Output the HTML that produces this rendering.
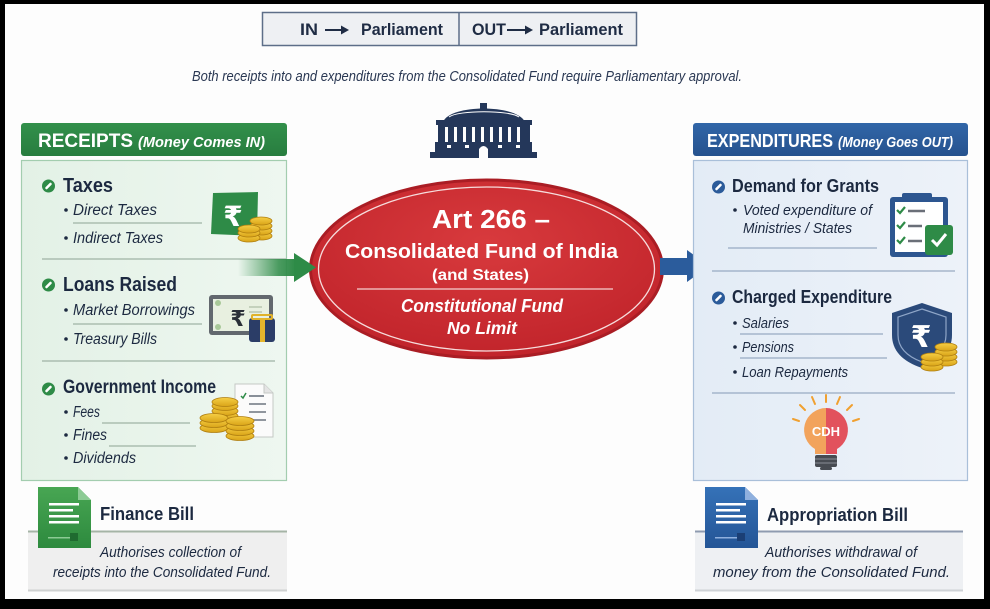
<!DOCTYPE html>
<html><head><meta charset="utf-8">
<style>
html,body{margin:0;padding:0;background:#fff;}
svg{display:block;}
text{font-family:"Liberation Sans","DejaVu Sans",sans-serif;}
</style></head><body>
<svg width="990" height="609" viewBox="0 0 990 609" xmlns="http://www.w3.org/2000/svg">
<defs>
 <linearGradient id="gArrow" x1="0" x2="1" y1="0" y2="0"><stop offset="0" stop-color="#2e8b47" stop-opacity="0"/><stop offset="0.7" stop-color="#2e8b47" stop-opacity="0.85"/><stop offset="1" stop-color="#2e8b47"/></linearGradient>
 <radialGradient id="rEl" cx="0.5" cy="0.35" r="0.65"><stop offset="0" stop-color="#d83a3d"/><stop offset="1" stop-color="#c1242b"/></radialGradient>
 <linearGradient id="gHead" x1="0" y1="0" x2="0" y2="1"><stop offset="0" stop-color="#32904b"/><stop offset="1" stop-color="#287d3f"/></linearGradient>
 <linearGradient id="bHead" x1="0" y1="0" x2="0" y2="1"><stop offset="0" stop-color="#3166a8"/><stop offset="1" stop-color="#26528e"/></linearGradient>
 <linearGradient id="gBody" x1="0" y1="0" x2="1" y2="0"><stop offset="0" stop-color="#e3f1e6"/><stop offset="1" stop-color="#eef7f0"/></linearGradient>
 <linearGradient id="bBody" x1="0" y1="0" x2="1" y2="0"><stop offset="0" stop-color="#e3ecf6"/><stop offset="1" stop-color="#edf2f9"/></linearGradient>
 <linearGradient id="gDoc" x1="0" y1="0" x2="0" y2="1"><stop offset="0" stop-color="#48a653"/><stop offset="1" stop-color="#2d8a3e"/></linearGradient>
 <linearGradient id="bDoc" x1="0" y1="0" x2="0" y2="1"><stop offset="0" stop-color="#3572b8"/><stop offset="1" stop-color="#245596"/></linearGradient>
 <linearGradient id="coin" x1="0" y1="0" x2="0" y2="1"><stop offset="0" stop-color="#f6cf45"/><stop offset="1" stop-color="#d9a418"/></linearGradient>
</defs>
<rect width="990" height="609" fill="#fdfdfd"/>

<!-- top box -->
<rect x="262.5" y="12.5" width="374" height="33" fill="#eef0f3" stroke="#5d6e88" stroke-width="1.5"/>
<line x1="459" y1="12" x2="459" y2="46" stroke="#5d6e88" stroke-width="1.5"/>
<g fill="#1f2c44" font-weight="bold" font-size="16.5">
 <text x="300" y="35" textLength="18" lengthAdjust="spacingAndGlyphs">IN</text>
 <text x="361" y="35" textLength="82" lengthAdjust="spacingAndGlyphs">Parliament</text>
 <text x="472" y="35" textLength="34" lengthAdjust="spacingAndGlyphs">OUT</text>
 <text x="539" y="35" textLength="84" lengthAdjust="spacingAndGlyphs">Parliament</text>
</g>
<g stroke="#1f2c44" stroke-width="2" fill="#1f2c44">
 <line x1="325" y1="30" x2="343" y2="30"/><polygon points="341,25.5 349,30 341,34.5" stroke="none"/>
 <line x1="507" y1="30" x2="527" y2="30"/><polygon points="525,25.5 533,30 525,34.5" stroke="none"/>
</g>

<!-- subtitle -->
<text x="192" y="81" font-size="14.5" font-style="italic" fill="#2a3853" textLength="550" lengthAdjust="spacingAndGlyphs">Both receipts into and expenditures from the Consolidated Fund require Parliamentary approval.</text>

<!-- parliament -->
<g fill="#24375a">
 <rect x="480" y="103" width="7" height="7"/>
 <path d="M443,122 C450,104 517,104 525,122 Z"/>
 <rect x="436" y="120" width="96" height="5"/>
 <rect x="438" y="124" width="92" height="19"/>
 <rect x="435" y="142" width="97" height="10"/>
 <rect x="430" y="152" width="107" height="6"/>
</g>
<path d="M449,117 C458,110 510,110 519,117" stroke="#fff" stroke-width="1" fill="none"/>
<g fill="#fdfdfd">
 <rect x="445" y="127" width="3" height="15"/><rect x="454" y="127" width="3" height="15"/><rect x="463" y="127" width="3" height="15"/><rect x="472" y="127" width="3" height="15"/><rect x="481" y="127" width="3" height="15"/><rect x="490" y="127" width="3" height="15"/><rect x="499" y="127" width="3" height="15"/><rect x="508" y="127" width="3" height="15"/><rect x="517" y="127" width="3" height="15"/>
 <rect x="447" y="145" width="4" height="3"/><rect x="465" y="145" width="4" height="3"/><rect x="498" y="145" width="4" height="3"/><rect x="516" y="145" width="4" height="3"/>
 <path d="M479,158 V149 Q483.5,143 488,149 V158 Z"/>
</g>

<!-- left panel -->
<rect x="21" y="123" width="266" height="33" rx="3" fill="url(#gHead)"/>
<text x="38" y="147" font-size="19.5" font-weight="bold" fill="#fff" textLength="95" lengthAdjust="spacingAndGlyphs">RECEIPTS</text>
<text x="138" y="147" font-size="15" font-weight="bold" font-style="italic" fill="#fff" textLength="127" lengthAdjust="spacingAndGlyphs">(Money Comes IN)</text>
<rect x="21.5" y="160.5" width="265" height="320" fill="url(#gBody)" stroke="#a3cdaf" stroke-width="1.2"/>

<g fill="#2e8b47"><circle cx="48.5" cy="186" r="6.5"/><circle cx="48.5" cy="285" r="6.5"/><circle cx="48.5" cy="389" r="6.5"/></g>
<g stroke="#fff" stroke-width="2.6" stroke-linecap="round"><line x1="46.5" y1="188" x2="50.5" y2="184"/><line x1="46.5" y1="287" x2="50.5" y2="283"/><line x1="46.5" y1="391" x2="50.5" y2="387"/></g>

<g fill="#1c2940" font-weight="bold" font-size="20.5">
 <text x="63" y="192" textLength="50" lengthAdjust="spacingAndGlyphs">Taxes</text>
 <text x="63" y="291" textLength="114" lengthAdjust="spacingAndGlyphs">Loans Raised</text>
 <text x="63" y="393" font-size="19.5" textLength="153" lengthAdjust="spacingAndGlyphs">Government Income</text>
</g>
<g fill="#1c2940"><circle cx="66" cy="210" r="1.8"/><circle cx="66" cy="238" r="1.8"/><circle cx="66" cy="310" r="1.8"/><circle cx="66" cy="339" r="1.8"/><circle cx="66" cy="412" r="1.8"/><circle cx="66" cy="435" r="1.8"/><circle cx="66" cy="458" r="1.8"/></g>
<g fill="#1c2940" font-style="italic" font-size="15.5">
 <text x="73" y="215" textLength="84" lengthAdjust="spacingAndGlyphs">Direct Taxes</text>
 <text x="73" y="243" textLength="90" lengthAdjust="spacingAndGlyphs">Indirect Taxes</text>
 <text x="73" y="315" textLength="122" lengthAdjust="spacingAndGlyphs">Market Borrowings</text>
 <text x="73" y="344" textLength="84" lengthAdjust="spacingAndGlyphs">Treasury Bills</text>
 <text x="73" y="417" textLength="27" lengthAdjust="spacingAndGlyphs">Fees</text>
 <text x="73" y="440" textLength="34" lengthAdjust="spacingAndGlyphs">Fines</text>
 <text x="73" y="463" textLength="63" lengthAdjust="spacingAndGlyphs">Dividends</text>
</g>
<g stroke="#9fb3a5" stroke-width="1.2">
 <line x1="73" y1="223" x2="202" y2="223"/>
 <line x1="42" y1="259" x2="286" y2="259"/>
 <line x1="73" y1="324" x2="202" y2="324"/>
 <line x1="42" y1="361" x2="275" y2="361"/>
 <line x1="102" y1="423" x2="190" y2="423"/>
 <line x1="109" y1="446" x2="196" y2="446"/>
</g>

<!-- taxes icon -->
<polygon points="213,193 258,192 257,236 211,234" fill="#2e8b47"/>
<text x="233" y="226" font-size="28" font-weight="bold" fill="#fff" text-anchor="middle">₹</text>
<g stroke="#b07f10" stroke-width="0.8" fill="url(#coin)">
 <ellipse cx="261" cy="236" rx="11" ry="4"/><ellipse cx="261" cy="231" rx="11" ry="4"/><ellipse cx="261" cy="226" rx="11" ry="4"/><ellipse cx="261" cy="221" rx="11" ry="4"/>
 <ellipse cx="249" cy="238" rx="11" ry="4"/><ellipse cx="249" cy="233" rx="11" ry="4"/><ellipse cx="249" cy="229" rx="11" ry="4"/>
</g>
<!-- loans icon -->
<rect x="209" y="295" width="64" height="40" rx="3" fill="#62686e"/>
<rect x="213" y="299" width="56" height="32" fill="#e8f0e0"/>
<circle cx="218" cy="303" r="3" fill="#a8c898"/><circle cx="218" cy="327" r="3" fill="#a8c898"/>
<text x="238" y="326" font-size="22" font-weight="bold" fill="#2a2f38" text-anchor="middle">₹</text>
<g stroke="#b9c7b0" stroke-width="1.5"><line x1="249" y1="307" x2="262" y2="307"/><line x1="249" y1="312" x2="262" y2="312"/></g>
<rect x="249" y="318" width="26" height="24" rx="3" fill="#2b3d67"/>
<rect x="252" y="315" width="20" height="4" rx="1" fill="none" stroke="#e0b22a" stroke-width="2"/>
<rect x="260" y="318" width="5" height="24" fill="#e5b52c"/>

<!-- gov income icon -->
<path d="M235,384 H264 L273,393 V437 H235 Z" fill="#fbfbfb" stroke="#c4c8c4" stroke-width="1"/>
<path d="M264,384 V393 H273" fill="#e4e4e4" stroke="#c4c8c4" stroke-width="1"/>
<g stroke="#6c7480" stroke-width="1.6"><line x1="249" y1="396" x2="264" y2="396"/><line x1="249" y1="404" x2="266" y2="404"/><line x1="249" y1="412" x2="266" y2="412"/><line x1="249" y1="420" x2="266" y2="420"/></g>
<path d="M241,396 L243,398 L246,393" stroke="#2e8b47" stroke-width="1.5" fill="none"/>
<g stroke="#b07f10" stroke-width="0.8" fill="url(#coin)">
 <ellipse cx="225" cy="416" rx="13" ry="4.5"/><ellipse cx="225" cy="411" rx="13" ry="4.5"/><ellipse cx="225" cy="406" rx="13" ry="4.5"/><ellipse cx="225" cy="402" rx="13" ry="4.5"/>
 <ellipse cx="214" cy="428" rx="14" ry="4.5"/><ellipse cx="214" cy="423" rx="14" ry="4.5"/><ellipse cx="214" cy="418" rx="14" ry="4.5"/>
 <ellipse cx="240" cy="436" rx="14" ry="4.5"/><ellipse cx="240" cy="431" rx="14" ry="4.5"/><ellipse cx="240" cy="426" rx="14" ry="4.5"/><ellipse cx="240" cy="421" rx="14" ry="4.5"/>
</g>

<!-- ellipse -->
<ellipse cx="486.5" cy="269" rx="176" ry="89" fill="url(#rEl)" stroke="#aa1d24" stroke-width="3"/>
<ellipse cx="486.5" cy="269" rx="168" ry="82" fill="none" stroke="#f6dcdc" stroke-width="1.3"/>
<g fill="#fff" font-weight="bold">
 <text x="432" y="228" font-size="25.5" textLength="118" lengthAdjust="spacingAndGlyphs">Art 266 –</text>
 <text x="345" y="258" font-size="20" textLength="273" lengthAdjust="spacingAndGlyphs">Consolidated Fund of India</text>
 <text x="432" y="280" font-size="16" textLength="97" lengthAdjust="spacingAndGlyphs">(and States)</text>
 <text x="401" y="312" font-size="18" font-style="italic" textLength="162" lengthAdjust="spacingAndGlyphs">Constitutional Fund</text>
 <text x="447" y="334" font-size="17.5" font-style="italic" textLength="70" lengthAdjust="spacingAndGlyphs">No Limit</text>
</g>
<line x1="357" y1="289" x2="613" y2="289" stroke="#f4d0d0" stroke-width="1.2"/>

<!-- arrows -->
<rect x="238" y="259" width="58" height="17" fill="url(#gArrow)"/>
<polygon points="294,253 316,267.5 294,282" fill="#2e8b47"/>
<rect x="660" y="258" width="29" height="17" fill="#2b5c9c"/>
<polygon points="687,250 709,266 687,282" fill="#2b5c9c"/>

<!-- right panel -->
<rect x="693" y="123" width="275" height="33" rx="3" fill="url(#bHead)"/>
<text x="707" y="147" font-size="18" font-weight="bold" fill="#fff" textLength="126" lengthAdjust="spacingAndGlyphs">EXPENDITURES</text>
<text x="838" y="147" font-size="14.5" font-weight="bold" font-style="italic" fill="#fff" textLength="115" lengthAdjust="spacingAndGlyphs">(Money Goes OUT)</text>
<rect x="693.5" y="160.5" width="274" height="320" fill="url(#bBody)" stroke="#a9bfd9" stroke-width="1.2"/>

<g fill="#2b5b9a"><circle cx="718.5" cy="187" r="6.5"/><circle cx="718.5" cy="298" r="6.5"/></g>
<g stroke="#fff" stroke-width="2.6" stroke-linecap="round"><line x1="716.5" y1="189" x2="720.5" y2="185"/><line x1="716.5" y1="300" x2="720.5" y2="296"/></g>
<g fill="#1c2940" font-weight="bold" font-size="18.5">
 <text x="732" y="192" textLength="147" lengthAdjust="spacingAndGlyphs">Demand for Grants</text>
 <text x="732" y="303" textLength="160" lengthAdjust="spacingAndGlyphs">Charged Expenditure</text>
</g>
<g fill="#1c2940"><circle cx="735" cy="210" r="1.8"/><circle cx="735" cy="323" r="1.8"/><circle cx="735" cy="347" r="1.8"/><circle cx="735" cy="372" r="1.8"/></g>
<g fill="#1c2940" font-style="italic" font-size="14.5">
 <text x="743" y="215" textLength="129" lengthAdjust="spacingAndGlyphs">Voted expenditure of</text>
 <text x="743" y="233" textLength="109" lengthAdjust="spacingAndGlyphs">Ministries / States</text>
 <text x="742" y="328" textLength="47" lengthAdjust="spacingAndGlyphs">Salaries</text>
 <text x="742" y="352" textLength="52" lengthAdjust="spacingAndGlyphs">Pensions</text>
 <text x="742" y="377" textLength="106" lengthAdjust="spacingAndGlyphs">Loan Repayments</text>
</g>
<g stroke="#98aac2" stroke-width="1.2">
 <line x1="728" y1="248" x2="877" y2="248"/>
 <line x1="712" y1="271" x2="955" y2="271"/>
 <line x1="740" y1="334" x2="883" y2="334"/>
 <line x1="740" y1="358" x2="887" y2="358"/>
 <line x1="712" y1="393" x2="955" y2="393"/>
</g>

<!-- clipboard -->
<rect x="890" y="197" width="58" height="60" rx="3" fill="#2d5690"/>
<rect x="895" y="202" width="48" height="50" fill="#fff"/>
<rect x="902" y="193" width="30" height="7" rx="2" fill="#2d5690"/>
<g stroke="#2e8b47" stroke-width="2.2" fill="none"><path d="M897,210 L900,213 L905,207"/><path d="M897,225 L900,228 L905,222"/><path d="M897,240 L900,243 L905,237"/></g>
<g stroke="#6a6f78" stroke-width="2.5"><line x1="908" y1="211" x2="925" y2="211"/><line x1="908" y1="226" x2="922" y2="226"/><line x1="908" y1="241" x2="922" y2="241"/></g>
<rect x="925" y="225" width="28" height="30" rx="3" fill="#2e8b47"/>
<path d="M932,240 L937,245 L946,234" stroke="#fff" stroke-width="3" fill="none"/>

<!-- shield -->
<path d="M922,303 L952,313 L952,335 Q952,358 922,368 Q892,358 892,335 L892,313 Z" fill="#2b4a7a"/>
<path d="M922,309 L946,317 L946,335 Q946,353 922,362 Q898,353 898,335 L898,317 Z" fill="none" stroke="#8fa6c8" stroke-width="1.2"/>
<text x="921" y="347" font-size="30" font-weight="bold" fill="#fff" text-anchor="middle">₹</text>
<g stroke="#b07f10" stroke-width="0.8" fill="url(#coin)">
 <ellipse cx="946" cy="362" rx="11" ry="4"/><ellipse cx="946" cy="357" rx="11" ry="4"/><ellipse cx="946" cy="352" rx="11" ry="4"/><ellipse cx="946" cy="347" rx="11" ry="4"/>
 <ellipse cx="932" cy="367" rx="11" ry="4"/><ellipse cx="932" cy="362" rx="11" ry="4"/><ellipse cx="932" cy="357" rx="11" ry="4"/>
</g>

<!-- bulb -->
<g stroke="#f0a030" stroke-width="2" stroke-linecap="round">
 <line x1="826" y1="395" x2="826" y2="402"/>
 <line x1="812" y1="397" x2="815" y2="404"/><line x1="840" y1="397" x2="837" y2="404"/>
 <line x1="800" y1="405" x2="805" y2="410"/><line x1="852" y1="405" x2="847" y2="410"/>
 <line x1="793" y1="419" x2="799" y2="421"/><line x1="859" y1="419" x2="853" y2="421"/>
</g>
<path d="M826,408 A22,22 0 0 0 815,449 L815,454 L826,454 Z" fill="#f2a35c"/>
<path d="M826,408 A22,22 0 0 1 837,449 L837,454 L826,454 Z" fill="#e2525d"/>
<text x="826" y="436" font-size="13" font-weight="bold" fill="#fff" text-anchor="middle">CDH</text>
<rect x="815" y="455" width="22" height="12" rx="2" fill="#474b52"/>
<g stroke="#8a8e95" stroke-width="1"><line x1="815" y1="459" x2="837" y2="459"/><line x1="815" y1="463" x2="837" y2="463"/></g>
<rect x="820" y="467" width="12" height="3" rx="1.5" fill="#474b52"/>

<!-- bottom left card -->
<rect x="28" y="532" width="259" height="58" fill="#efefef"/>
<line x1="28" y1="531.5" x2="287" y2="531.5" stroke="#a5b4a6" stroke-width="2"/>
<line x1="28" y1="590.5" x2="287" y2="590.5" stroke="#cfd1d1" stroke-width="2"/>
<path d="M38,487 H78 L91,500 V548 H38 Z" fill="url(#gDoc)"/>
<path d="M78,487 V500 H91 Z" fill="#8ccb94"/>
<g fill="#fff"><rect x="49" y="503" width="30" height="2.5"/><rect x="49" y="509" width="24" height="2.5"/><rect x="49" y="515" width="30" height="2.5"/><rect x="49" y="521" width="30" height="2.5"/></g>
<rect x="48" y="537" width="22" height="1.5" fill="#8ccb94"/><rect x="70" y="533" width="8" height="8" fill="#1f6b30"/>
<text x="100" y="520" font-size="18" font-weight="bold" fill="#1c2940" textLength="94" lengthAdjust="spacingAndGlyphs">Finance Bill</text>
<g fill="#1c2940" font-style="italic" font-size="14.5">
 <text x="100" y="557" textLength="141" lengthAdjust="spacingAndGlyphs">Authorises collection of</text>
 <text x="53" y="577" textLength="218" lengthAdjust="spacingAndGlyphs">receipts into the Consolidated Fund.</text>
</g>

<!-- bottom right card -->
<rect x="695" y="532" width="268" height="58" fill="#eef0f3"/>
<line x1="695" y1="531.5" x2="963" y2="531.5" stroke="#8f9bb0" stroke-width="2"/>
<line x1="695" y1="590.5" x2="963" y2="590.5" stroke="#cfd2d6" stroke-width="2"/>
<path d="M705,487 H745 L758,500 V548 H705 Z" fill="url(#bDoc)"/>
<path d="M745,487 V500 H758 Z" fill="#8fb0de"/>
<g fill="#fff"><rect x="716" y="503" width="30" height="2.5"/><rect x="716" y="509" width="24" height="2.5"/><rect x="716" y="515" width="30" height="2.5"/><rect x="716" y="521" width="30" height="2.5"/></g>
<rect x="715" y="537" width="22" height="1.5" fill="#8fb0de"/><rect x="737" y="533" width="8" height="8" fill="#1b3f75"/>
<text x="767" y="521" font-size="18" font-weight="bold" fill="#1c2940" textLength="141" lengthAdjust="spacingAndGlyphs">Appropriation Bill</text>
<g fill="#1c2940" font-style="italic" font-size="14.5">
 <text x="765" y="557" textLength="152" lengthAdjust="spacingAndGlyphs">Authorises withdrawal of</text>
 <text x="713" y="577" textLength="237" lengthAdjust="spacingAndGlyphs">money from the Consolidated Fund.</text>
</g>

<!-- frame -->
<rect x="0" y="0" width="990" height="4" fill="#000"/>
<rect x="0" y="0" width="5" height="609" fill="#000"/>
<rect x="984" y="0" width="6" height="609" fill="#000"/>
<rect x="0" y="599" width="990" height="10" fill="#000"/>
</svg>
</body></html>
